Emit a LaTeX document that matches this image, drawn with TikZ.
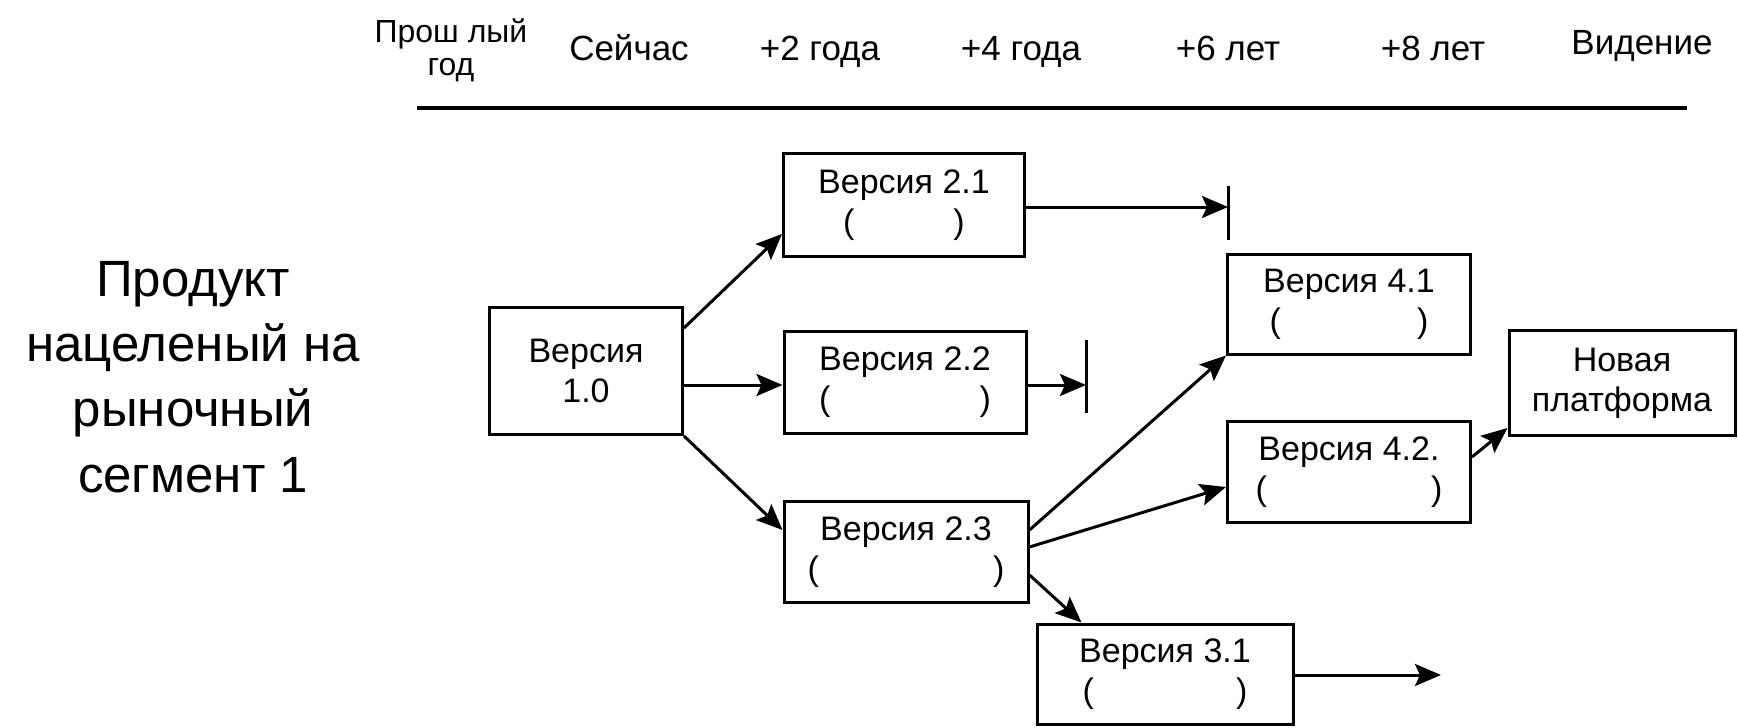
\documentclass[tikz,border=0pt]{standalone}
\usepackage{fontspec}
\setmainfont{Liberation Sans}
\usetikzlibrary{arrows.meta,calc}
\begin{document}
\begin{tikzpicture}[x=1pt,y=-1pt,
  box/.style={draw,line width=3pt,rectangle,inner sep=0pt,align=center,font=\fontsize{34}{40}\selectfont},
  conn/.style={line width=3pt,-{Stealth[length=26pt,width=22pt,inset=5pt]}},
  plain/.style={line width=3pt},
  toplbl/.style={anchor=base,inner sep=0pt,font=\fontsize{35}{35}\selectfont},
]
\useasboundingbox (0,0) rectangle (1738,728);

% timeline labels
\node[inner sep=0pt,align=center,font=\fontsize{32}{33}\selectfont] (past) at (451,50) {Прош лый\\год};
\node[toplbl] (now) at (629,60) {Сейчас};
\node[toplbl] (y2) at (820,60) {+2 года};
\node[toplbl] (y4) at (1021,60) {+4 года};
\node[toplbl] (y6) at (1228,60) {+6 лет};
\node[toplbl] (y8) at (1433,60) {+8 лет};
\node[toplbl] (vis) at (1642,54) {Видение};
\coordinate (hl) at (417,108);
\coordinate (hr) at (1687,108);
\draw[line width=3.5pt] (hl) -- (hr);

% left label
\node[inner sep=0pt,align=center,font=\fontsize{51}{65.3}\selectfont] (prod) at (193,377) {Продукт\\нацеленый на\\рыночный\\сегмент 1};

% boxes
\node[box,minimum width=193pt,minimum height=127pt] (v10) at (586,371) {Версия\\1.0};
\node[box,minimum width=241pt,minimum height=103pt] (v21) at (904,205) {Версия 2.1\\(\hspace{99pt})};
\node[box,minimum width=242pt,minimum height=102pt] (v22) at (905,382) {Версия 2.2\\(\hspace{149pt})};
\node[box,minimum width=244pt,minimum height=101pt] (v23) at (906,552) {Версия 2.3\\(\hspace{174pt})};
\node[box,minimum width=256pt,minimum height=100pt] (v31) at (1165,674) {Версия 3.1\\(\hspace{142pt})};
\node[box,minimum width=243pt,minimum height=100pt] (v41) at (1349,304) {Версия 4.1\\(\hspace{136pt})};
\node[box,minimum width=243pt,minimum height=101pt] (v42) at (1349,472) {Версия 4.2.\\(\hspace{164pt})};
\node[box,minimum width=226pt,minimum height=105pt] (np) at (1622,383) {Новая\\платформа};

% end markers
\coordinate (bar1) at (1228,207);
\coordinate (bar2) at (1086,385);
\coordinate (out31) at (1441,675);
\draw[plain] ($(bar1)+(0,-21)$) -- ($(bar1)+(0,33)$);
\draw[plain] ($(bar2)+(0,-45)$) -- ($(bar2)+(0,28)$);

% connectors
\draw[conn] ($(v10.north east)+(0,22)$) -- ($(v21.south west)+(0,-24)$);
\draw[conn] (v10.east |- bar2) -- (v22.west |- bar2);
\draw[conn] (v10.south east) -- ($(v23.west)+(0,-22)$);
\draw[conn] (v21.east |- bar1) -- (bar1);
\draw[conn] (v22.east |- bar2) -- (bar2);
\draw[conn] ($(v23.east)+(0,-22)$) -- (v41.south west);
\draw[conn] ($(v23.east)+(0,-5)$) -- ($(v42.west)+(0,15)$);
\draw[conn] ($(v23.east)+(0,23)$) -- ($(v31.north west)+(46,0)$);
\draw[conn] (v31.east |- out31) -- (out31);
\draw[conn] ($(v42.east)+(0,-15)$) -- ($(np.south west)+(0,-9)$);
\end{tikzpicture}
\end{document}
